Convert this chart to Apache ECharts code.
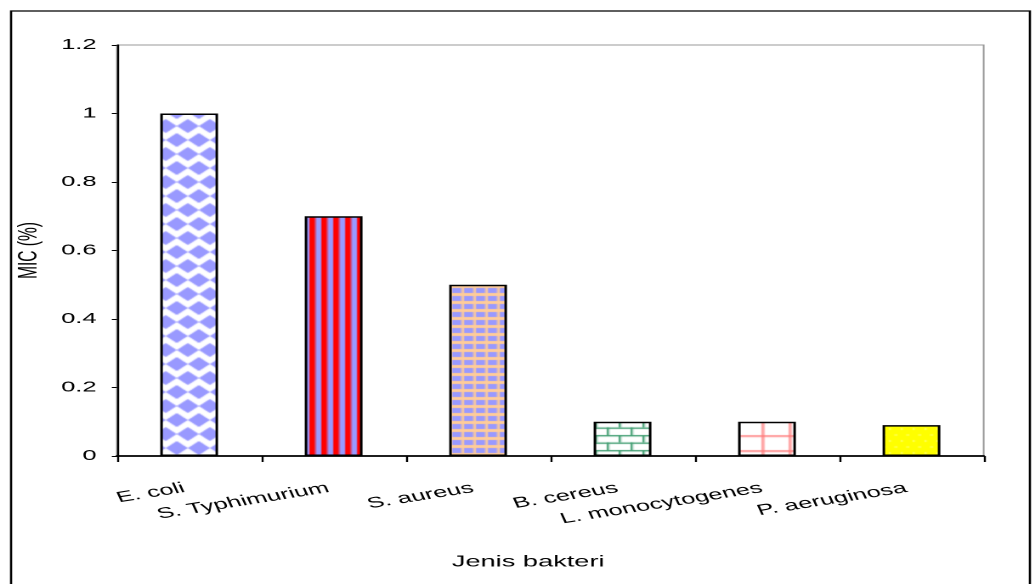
<!DOCTYPE html>
<html>
<head>
<meta charset="utf-8">
<title>MIC (%) per jenis bakteri</title>
<script src="https://cdn.jsdelivr.net/npm/echarts@6/dist/echarts.min.js"></script>
<style>
  html, body { margin: 0; padding: 0; background: #fff; }
  #wrap { width: 1035px; height: 584px; overflow: hidden; background: #fff; }
  /* the chart is laid out narrow and stretched sideways, as the figure is */
  #chart { width: 609px; height: 584px; transform: scaleX(1.6995); transform-origin: 0 0; }
</style>
</head>
<body>
<div id="wrap"><div id="chart"></div></div>
<script>
// ---- data ----
const categories = ['E. coli', 'S. Typhimurium', 'S. aureus', 'B. cereus', 'L. monocytogenes', 'P. aeruginosa'];
const micValues = [1.0, 0.7, 0.5, 0.1, 0.1, 0.09];
const yAxisMin = 0;
const yAxisMax = 1.2;
const yAxisStep = 0.2;
const xAxisTitle = 'Jenis bakteri';
const yAxisTitle = 'MIC (%)';

// ---- fill patterns, one per bar ----
function makeTile(w, h, draw) {
  const c = document.createElement('canvas');
  c.width = w; c.height = h;
  const g = c.getContext('2d');
  draw(g, w, h);
  return c;
}

// blue diamonds on white (rotated checkerboard)
const diamondTile = makeTile(13, 28, (g, w, h) => {
  g.fillStyle = '#fff'; g.fillRect(0, 0, w, h);
  g.fillStyle = '#9999ff';
  const hw = 6.5, hh = 7;
  [[0, 0], [w, 0], [w / 2, h / 2], [0, h], [w, h]].forEach(([cx, cy]) => {
    g.beginPath();
    g.moveTo(cx, cy - hh); g.lineTo(cx + hw, cy); g.lineTo(cx, cy + hh); g.lineTo(cx - hw, cy);
    g.closePath(); g.fill();
  });
});

// red / lilac vertical stripes
const stripeTile = makeTile(7, 4, (g, w, h) => {
  g.fillStyle = '#9999ff'; g.fillRect(0, 0, w, h);
  g.fillStyle = '#ff0000'; g.fillRect(0, 0, 3.5, h);
});

// lilac cells on a peach lattice
const latticeTile = makeTile(7, 8, (g, w, h) => {
  g.fillStyle = '#ffcc99'; g.fillRect(0, 0, w, h);
  g.fillStyle = '#9999ff'; g.fillRect(0, 0, 5.5, 5);
});

// green brick courses on white
const brickTile = makeTile(14, 15, (g, w, h) => {
  g.fillStyle = '#fff'; g.fillRect(0, 0, w, h);
  g.fillStyle = '#3c9c6e';
  g.fillRect(0, 0, w, 1.4);
  g.fillRect(0, 7.5, w, 1.4);
  g.fillRect(0, 0, 1.3, 7.5);
  g.fillRect(7, 7.5, 1.3, 7.5);
});

// pink grid on white
const gridTile = makeTile(16, 15, (g, w, h) => {
  g.fillStyle = '#fff'; g.fillRect(0, 0, w, h);
  g.fillStyle = 'rgba(255,120,120,0.7)';
  g.fillRect(0, 0, 1.8, h);
  g.fillRect(0, 0, w, 2.2);
});

// yellow with faint white dots
const dotTile = makeTile(7, 12, (g, w, h) => {
  g.fillStyle = '#ffff00'; g.fillRect(0, 0, w, h);
  g.fillStyle = 'rgba(255,255,255,0.75)';
  g.fillRect(1.5, 2.5, 1.2, 1);
  g.fillRect(5, 8.5, 1.2, 1);
});

const barFills = [diamondTile, stripeTile, latticeTile, brickTile, gridTile, dotTile];

const FONT = 'Liberation Sans, Arial, sans-serif';

const chart = echarts.init(document.getElementById('chart'), null, {
  renderer: 'canvas', width: 609, height: 584, devicePixelRatio: 2
});

chart.setOption({
  backgroundColor: '#fff',
  animation: false,
  grid: {
    left: 68.8, right: 30.2, top: 45, bottom: 128,
    show: true, borderColor: '#999', borderWidth: 1, backgroundColor: 'transparent'
  },
  xAxis: {
    type: 'category',
    data: categories,
    boundaryGap: true,
    name: xAxisTitle,
    nameLocation: 'middle',
    nameGap: 98,
    nameTextStyle: { fontFamily: FONT, fontSize: 16, color: '#000', padding: [0, 26, 0, 0] },
    axisLine: { show: true, lineStyle: { color: '#000', width: 1.7 } },
    axisTick: { show: true, inside: false, length: 6, interval: 0, lineStyle: { color: '#000', width: 1.2 } },
    axisLabel: {
      interval: 0, rotate: 15, margin: 31, color: '#000',
      fontFamily: FONT, fontSize: 15, padding: [0, 3, 0, 0]
    },
    splitLine: { show: false }
  },
  yAxis: {
    type: 'value',
    min: yAxisMin, max: yAxisMax, interval: yAxisStep,
    name: yAxisTitle,
    nameLocation: 'middle',
    nameGap: 37,
    nameRotate: 90,
    nameTextStyle: { fontFamily: FONT, fontSize: 15.5, color: '#000' },
    axisLine: { show: true, lineStyle: { color: '#000', width: 1.2 } },
    axisTick: { show: true, inside: false, length: 3, lineStyle: { color: '#000', width: 1 } },
    axisLabel: {
      margin: 12, color: '#000', fontFamily: FONT, fontSize: 15,
      formatter: v => String(Math.round(v * 10) / 10)
    },
    splitLine: { show: false }
  },
  series: [{
    type: 'bar',
    barWidth: 34,
    data: micValues.map((v, i) => ({
      value: v,
      itemStyle: {
        color: { image: barFills[i], repeat: 'repeat' },
        borderColor: '#000',
        borderWidth: 1.5
      }
    }))
  }],
  graphic: [{
    type: 'rect',
    silent: true,
    z: 100,
    shape: { x: 6.5, y: 11, width: 599.5, height: 620 },
    style: { fill: 'none', stroke: '#000', lineWidth: 1.3 }
  }]
});
</script>
</body>
</html>
